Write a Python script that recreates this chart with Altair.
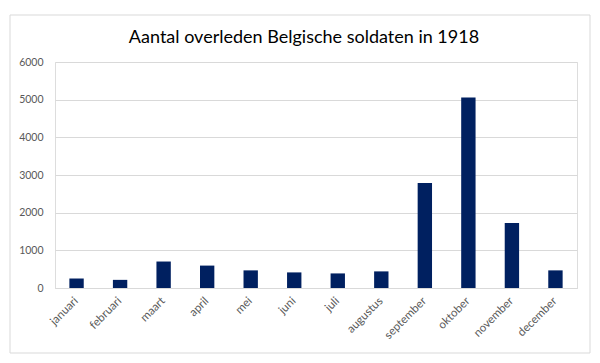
import altair as alt
import pandas as pd

months = ["januari", "februari", "maart", "april", "mei", "juni", "juli",
          "augustus", "september", "oktober", "november", "december"]
deaths = [252, 216, 703, 595, 468, 414, 387, 441, 2790, 5060, 1725, 468]
y_ticks = [0, 1000, 2000, 3000, 4000, 5000, 6000]
title_text = "Aantal overleden Belgische soldaten in 1918"

df = pd.DataFrame({"maand": months, "aantal": deaths})

bars = alt.Chart(df).mark_bar(color="#002060").encode(
    x=alt.X("maand:N", sort=months, title=None,
            scale=alt.Scale(paddingInner=0.67, paddingOuter=0.33),
            axis=alt.Axis(labelAngle=-45, labelAlign="right", labelBaseline="middle",
                          domainColor="#d9d9d9", ticks=False,
                          labelColor="#595959", labelFont="Lato", labelFontSize=11.5,
                          labelPadding=11)),
    y=alt.Y("aantal:Q", title=None,
            scale=alt.Scale(domain=[0, 6000], nice=False),
            axis=alt.Axis(values=y_ticks, format="d", domain=False, ticks=False,
                          gridColor="#d9d9d9", labelColor="#595959",
                          labelFont="Lato", labelFontSize=10.5, labelPadding=12)),
)

meta = alt.Data(values=[{"t": title_text}])

border = alt.Chart(meta).mark_rect(
    fill=None, stroke="#d9d9d9", strokeWidth=1, clip=False
).encode(
    x=alt.value(-45), x2=alt.value(535), y=alt.value(-47), y2=alt.value(291)
)

title = alt.Chart(meta).mark_text(
    font="Lato", fontSize=18, color="#000000", align="center", baseline="middle"
).encode(
    text="t:N", x=alt.value(249), y=alt.value(-24)
)

chart = alt.layer(border, title, bars).properties(
    width=522, height=226,
    autosize=alt.AutoSizeParams(type="none"),
    padding={"left": 47, "top": 54, "right": 15, "bottom": 67},
).configure_view(stroke=None).configure(background="white")

chart.save("out.html", embed_options={"renderer": "svg", "actions": False})
